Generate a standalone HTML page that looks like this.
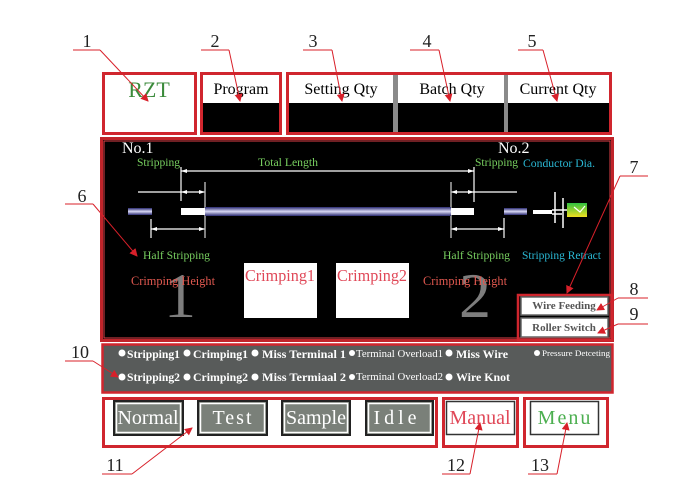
<!DOCTYPE html>
<html><head><meta charset="utf-8"><style>
html,body{margin:0;padding:0;background:#fff;}
svg{display:block;font-family:"Liberation Serif",serif;}
</style></head><body>
<svg width="698" height="492" viewBox="0 0 698 492" xmlns="http://www.w3.org/2000/svg">
<defs>
<marker id="ar" markerWidth="8" markerHeight="8" refX="7" refY="4" orient="auto" markerUnits="userSpaceOnUse"><path d="M0,0 L8,4 L0,8 z" fill="#d8202a"/></marker>
<linearGradient id="wire" x1="0" y1="0" x2="0" y2="1">
<stop offset="0" stop-color="#2a2a70"/><stop offset="0.5" stop-color="#d8d8f4"/><stop offset="1" stop-color="#2a2a70"/></linearGradient>
<linearGradient id="gy" x1="0" y1="0" x2="0" y2="1">
<stop offset="0" stop-color="#30c040"/><stop offset="1" stop-color="#f0e020"/></linearGradient>
</defs>

<!-- Top row -->
<rect x="103.5" y="73.5" width="92" height="60" fill="#fff" stroke="#d0262e" stroke-width="3"/>
<text x="149" y="97" font-size="22" fill="#3a8a3a" text-anchor="middle">RZT</text>

<rect x="201.5" y="73.5" width="79" height="60" fill="#fff" stroke="#d0262e" stroke-width="3"/>
<rect x="203" y="103" width="76" height="29" fill="#000"/>
<text x="241" y="94" font-size="16" fill="#000" text-anchor="middle">Program</text>

<rect x="287.5" y="73.5" width="323" height="60" fill="#fff" stroke="#d0262e" stroke-width="3"/>
<rect x="289" y="103" width="320" height="29" fill="#000"/>
<rect x="393" y="75" width="5" height="57" fill="#8a8a8a"/>
<rect x="504" y="75" width="4" height="57" fill="#8a8a8a"/>
<text x="341" y="94" font-size="16" fill="#000" text-anchor="middle">Setting Qty</text>
<text x="452" y="94" font-size="16" fill="#000" text-anchor="middle">Batch Qty</text>
<text x="558" y="94" font-size="16" fill="#000" text-anchor="middle">Current Qty</text>

<!-- Main panel -->
<rect x="101.5" y="138.5" width="511" height="202" fill="#000" stroke="#c0242a" stroke-width="3"/>
<rect x="104" y="141" width="506" height="197" fill="none" stroke="#e04048" stroke-width="1"/>

<text x="122" y="153" font-size="16" fill="#fff">No.1</text>
<text x="137" y="166" font-size="12" fill="#78d060" textLength="43" lengthAdjust="spacingAndGlyphs">Stripping</text>
<text x="258" y="166" font-size="12" fill="#78d060" textLength="60" lengthAdjust="spacingAndGlyphs">Total Length</text>
<text x="498" y="153" font-size="16" fill="#fff">No.2</text>
<text x="475" y="166" font-size="12" fill="#78d060" textLength="43" lengthAdjust="spacingAndGlyphs">Stripping</text>
<text x="523" y="167" font-size="12" fill="#2ab8d4" textLength="72" lengthAdjust="spacingAndGlyphs">Conductor Dia.</text>

<!-- dimension lines -->
<g stroke="#fff" stroke-width="1.2" fill="none">
<line x1="181" y1="171" x2="474" y2="171"/>
<line x1="181" y1="167" x2="181" y2="201"/>
<line x1="474" y1="167" x2="474" y2="202"/>
<line x1="138" y1="192" x2="205" y2="192"/>
<line x1="451" y1="192" x2="517" y2="192"/>
<line x1="151" y1="229" x2="205" y2="229"/>
<line x1="451" y1="229" x2="504" y2="229"/>
<line x1="151" y1="219" x2="151" y2="238"/>
<line x1="504" y1="218" x2="504" y2="238"/>
</g>
<g stroke="#aaa" stroke-width="1.5">
<line x1="205" y1="182" x2="205" y2="238"/>
<line x1="451" y1="182" x2="451" y2="238"/>
</g>
<g fill="#fff">
<path d="M181,171 l6,-2 v4 z"/><path d="M474,171 l-6,-2 v4 z"/>
<path d="M181,192 l6,-2 v4 z"/><path d="M205,192 l-6,-2 v4 z"/>
<path d="M451,192 l6,-2 v4 z"/><path d="M474,192 l-6,-2 v4 z"/>
<path d="M151,229 l6,-2 v4 z"/><path d="M205,229 l-6,-2 v4 z"/>
<path d="M451,229 l6,-2 v4 z"/><path d="M504,229 l-6,-2 v4 z"/>
</g>

<!-- wire -->
<rect x="128" y="208" width="24" height="7" fill="url(#wire)"/>
<rect x="181" y="208" width="24" height="7" fill="#fff"/>
<rect x="205" y="207" width="246" height="9" fill="url(#wire)"/>
<rect x="451" y="208" width="23" height="7" fill="#fff"/>
<rect x="504" y="208" width="23" height="7" fill="url(#wire)"/>
<rect x="533" y="210" width="19" height="4" fill="#fff"/>
<g stroke="#fff" stroke-width="1.5">
<line x1="555" y1="192" x2="555" y2="223"/>
<line x1="563" y1="198" x2="563" y2="228"/>
<line x1="552" y1="210" x2="570" y2="210"/>
<line x1="552" y1="214" x2="562" y2="214"/>
</g>
<rect x="567" y="203" width="20" height="14" fill="url(#gy)"/>
<path d="M574,207 l6,5 l5,-6" stroke="#fff" stroke-width="1.2" fill="none"/>

<text x="143" y="259" font-size="12" fill="#78d060" textLength="67" lengthAdjust="spacingAndGlyphs">Half Stripping</text>
<text x="443" y="259" font-size="12" fill="#78d060" textLength="67" lengthAdjust="spacingAndGlyphs">Half Stripping</text>
<text x="522" y="259" font-size="12" fill="#2ab8d4" textLength="79" lengthAdjust="spacingAndGlyphs">Stripping Retract</text>

<text x="180" y="317" font-size="64" fill="#7d7d7d" text-anchor="middle">1</text>
<text x="475" y="317" font-size="64" fill="#7d7d7d" text-anchor="middle">2</text>
<text x="131" y="285" font-size="13" fill="#e0584f" textLength="84" lengthAdjust="spacingAndGlyphs">Crimping Height</text>
<text x="423" y="285" font-size="13" fill="#e0584f" textLength="84" lengthAdjust="spacingAndGlyphs">Crimping Height</text>

<rect x="244" y="263" width="73" height="55" fill="#fff"/>
<rect x="336" y="263" width="73" height="55" fill="#fff"/>
<text x="245" y="281" font-size="17" fill="#e04858" textLength="70" lengthAdjust="spacingAndGlyphs">Crimping1</text>
<text x="337" y="281" font-size="17" fill="#e04858" textLength="70" lengthAdjust="spacingAndGlyphs">Crimping2</text>

<!-- wire feeding / roller switch -->
<rect x="518" y="295" width="94" height="45" fill="none" stroke="#d0262e" stroke-width="2.5"/>
<rect x="521" y="297" width="87" height="18" fill="#fff" stroke="#666" stroke-width="1.5"/>
<rect x="521" y="318" width="87" height="19" fill="#fff" stroke="#666" stroke-width="1.5"/>
<text x="564" y="309" font-size="11" font-weight="bold" fill="#555" text-anchor="middle">Wire Feeding</text>
<text x="564" y="331" font-size="11" font-weight="bold" fill="#555" text-anchor="middle">Roller Switch</text>

<!-- status panel -->
<rect x="102.5" y="344.5" width="510" height="48" fill="#585b5a" stroke="#d0262e" stroke-width="2.5"/>
<g fill="#fff">
<circle cx="122" cy="353" r="3.5"/><circle cx="187" cy="353" r="3.5"/><circle cx="255" cy="353" r="3.5"/><circle cx="352" cy="353" r="3"/><circle cx="449" cy="353" r="3.5"/><circle cx="537" cy="353" r="3"/>
<circle cx="122" cy="377" r="3.5"/><circle cx="187" cy="377" r="3.5"/><circle cx="255" cy="377" r="3.5"/><circle cx="352" cy="377" r="3"/><circle cx="449" cy="377" r="3.5"/>
</g>
<g fill="#fff" font-size="12" font-weight="bold">
<text x="127" y="358" textLength="53" lengthAdjust="spacingAndGlyphs">Stripping1</text>
<text x="193" y="358" textLength="55" lengthAdjust="spacingAndGlyphs">Crimping1</text>
<text x="262" y="358" textLength="84" lengthAdjust="spacingAndGlyphs">Miss Terminal 1</text>
<text x="456" y="358" textLength="52" lengthAdjust="spacingAndGlyphs">Miss Wire</text>
<text x="127" y="381" textLength="53" lengthAdjust="spacingAndGlyphs">Stripping2</text>
<text x="193" y="381" textLength="55" lengthAdjust="spacingAndGlyphs">Crimping2</text>
<text x="262" y="381" textLength="84" lengthAdjust="spacingAndGlyphs">Miss Termiaal 2</text>
<text x="456" y="381" textLength="54" lengthAdjust="spacingAndGlyphs">Wire Knot</text>
</g>
<g fill="#fff" font-size="10.5">
<text x="356" y="357" textLength="87" lengthAdjust="spacingAndGlyphs">Terminal Overload1</text>
<text x="356" y="380" textLength="87" lengthAdjust="spacingAndGlyphs">Terminal Overload2</text>
<text x="542" y="356" font-size="8.5" textLength="68" lengthAdjust="spacingAndGlyphs">Pressure Detceting</text>
</g>

<!-- bottom buttons -->
<rect x="103.5" y="398.5" width="333" height="48" fill="#fff" stroke="#d0262e" stroke-width="3"/>
<rect x="443.5" y="398.5" width="74" height="48" fill="#fff" stroke="#d0262e" stroke-width="3"/>
<rect x="524.5" y="398.5" width="83" height="48" fill="#fff" stroke="#d0262e" stroke-width="3"/>
<g stroke="#222" stroke-width="2" fill="#7a8079">
<rect x="114" y="401" width="69" height="34"/>
<rect x="198" y="401" width="69" height="34"/>
<rect x="282" y="401" width="68" height="34"/>
<rect x="366" y="401" width="67" height="34"/>
</g>
<g stroke="#fff" stroke-width="1.5" fill="none">
<rect x="116.5" y="403.5" width="64" height="29"/>
<rect x="200.5" y="403.5" width="64" height="29"/>
<rect x="284.5" y="403.5" width="63" height="29"/>
<rect x="368.5" y="403.5" width="62" height="29"/>
</g>
<g fill="#fff" font-size="20">
<text x="148" y="424" text-anchor="middle">Normal</text>
<text x="233" y="424" text-anchor="middle" letter-spacing="2">Test</text>
<text x="316" y="424" text-anchor="middle">Sample</text>
<text x="397" y="424" text-anchor="middle" letter-spacing="4">Idle</text>
</g>
<rect x="446.5" y="401.5" width="68" height="33" fill="#fff" stroke="#333" stroke-width="1.5"/>
<rect x="530.5" y="401.5" width="68" height="33" fill="#fff" stroke="#333" stroke-width="1.5"/>
<text x="480" y="424" font-size="20" fill="#e04858" text-anchor="middle">Manual</text>
<text x="565" y="424" font-size="20" fill="#4caf50" text-anchor="middle" letter-spacing="2">Menu</text>

<!-- annotations -->
<g fill="#222" font-size="18" text-anchor="middle">
<text x="87" y="47">1</text><text x="215" y="47">2</text><text x="313" y="47">3</text><text x="427" y="47">4</text><text x="532" y="47">5</text>
<text x="82" y="202">6</text><text x="634" y="173">7</text><text x="634" y="295">8</text><text x="634" y="320">9</text>
<text x="80" y="358">10</text><text x="115" y="471">11</text><text x="456" y="471">12</text><text x="540" y="471">13</text>
</g>
<g stroke="#d8202a" stroke-width="1" fill="none">
<line x1="73" y1="50" x2="100" y2="50"/><line x1="201" y1="50" x2="229" y2="50"/><line x1="303" y1="50" x2="332" y2="50"/><line x1="410" y1="50" x2="439" y2="50"/><line x1="518" y1="50" x2="543" y2="50"/>
<line x1="65" y1="204" x2="93" y2="204"/><line x1="620" y1="176" x2="648" y2="176"/><line x1="618" y1="298" x2="648" y2="298"/><line x1="618" y1="324" x2="648" y2="324"/>
<line x1="65" y1="361" x2="93" y2="361"/><line x1="102" y1="474" x2="132" y2="474"/><line x1="442" y1="474" x2="470" y2="474"/><line x1="528" y1="474" x2="557" y2="474"/>
<line x1="100" y1="50" x2="148" y2="101" marker-end="url(#ar)"/>
<line x1="229" y1="50" x2="240" y2="101" marker-end="url(#ar)"/>
<line x1="332" y1="50" x2="342" y2="101" marker-end="url(#ar)"/>
<line x1="439" y1="50" x2="450" y2="101" marker-end="url(#ar)"/>
<line x1="543" y1="50" x2="557" y2="101" marker-end="url(#ar)"/>
<line x1="93" y1="204" x2="137" y2="256" marker-end="url(#ar)"/>
<line x1="620" y1="176" x2="567" y2="293" marker-end="url(#ar)"/>
<line x1="618" y1="298" x2="597" y2="310" marker-end="url(#ar)"/>
<line x1="618" y1="324" x2="598" y2="333" marker-end="url(#ar)"/>
<line x1="93" y1="361" x2="118" y2="377" marker-end="url(#ar)"/>
<line x1="132" y1="474" x2="192" y2="428" marker-end="url(#ar)"/>
<line x1="470" y1="474" x2="480" y2="423" marker-end="url(#ar)"/>
<line x1="557" y1="474" x2="567" y2="423" marker-end="url(#ar)"/>
</g>
</svg>
</body></html>
